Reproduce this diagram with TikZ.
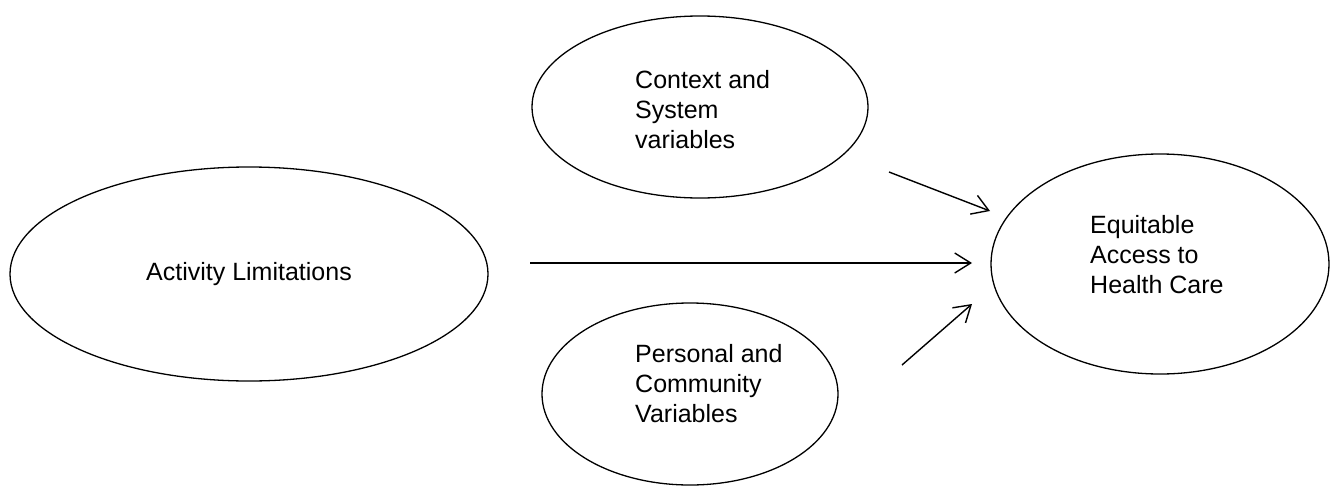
\documentclass[tikz,border=0pt]{standalone}
\usepackage{fontspec}
\setmainfont{Liberation Sans}
\usetikzlibrary{shapes.geometric,arrows.meta}
\begin{document}
\begin{tikzpicture}[x=1pt,y=-1pt,
  bubble/.style={ellipse,draw,line width=1.3pt,inner sep=0pt},
  words/.style={font=\fontsize{25}{30}\selectfont},
  caption/.style={words,align=left,inner sep=0pt,anchor=base west},
  link/.style={line width=1.4pt,-{Straight Barb[length=16pt,width=20pt,line width=1.4pt]}}]
\useasboundingbox (0,0) rectangle (1331,485);

% ellipses
\node[bubble,words,minimum width=478pt,minimum height=214pt] (act) at (249,274) {Activity Limitations};
\node[bubble,minimum width=336pt,minimum height=182pt] (ctx) at (700,107) {};
\node[bubble,minimum width=296pt,minimum height=182pt] (per) at (690,394) {};
\node[bubble,minimum width=338pt,minimum height=220pt] (eq) at (1160,264) {};

% texts inside the ellipses (anchored on the baseline of the last line)
\node[caption] (ctxtext) at (635,148) {Context and\\System\\variables};
\node[caption] (pertext) at (635,422) {Personal and\\Community\\Variables};
\node[caption] (eqtext) at (1090,293) {Equitable\\Access to\\Health Care};

% arrow end points
\coordinate (ctxout) at (889,172);
\coordinate (ctxin) at (990,211);
\coordinate (actout) at (530,263);
\coordinate (actin) at (972,263);
\coordinate (perout) at (902,365);
\coordinate (perin) at (972,304);

\draw[link] (ctxout) -- (ctxin);
\draw[link] (actout) -- (actin);
\draw[link] (perout) -- (perin);
\end{tikzpicture}
\end{document}
